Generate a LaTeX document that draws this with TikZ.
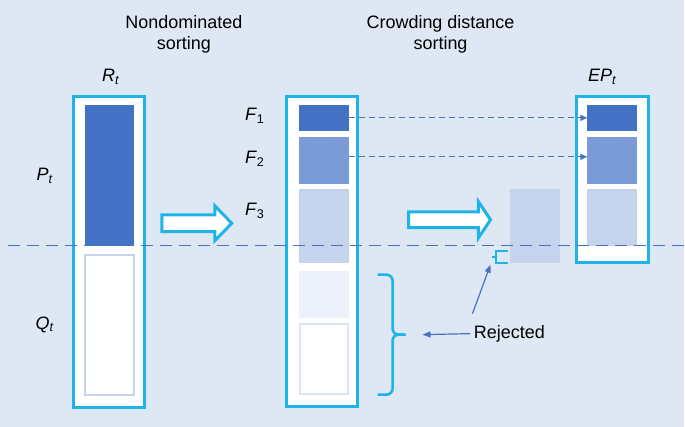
\documentclass[tikz,border=0pt]{standalone}
\usepackage{fontspec}
\setmainfont{Liberation Sans}
\usetikzlibrary{shapes.arrows,arrows.meta}
\definecolor{bg}{HTML}{DDE8F4}
\definecolor{cy}{HTML}{1EB4E8}
\definecolor{dk}{HTML}{4472C4}
\definecolor{md}{HTML}{7B9BD6}
\definecolor{lt}{HTML}{C5D3EC}
\definecolor{vl}{HTML}{EBF0F9}
\definecolor{dl}{HTML}{4A72C0}
\newcommand{\vs}[2]{\textit{#1}\textsubscript{#2}}
\begin{document}
\begin{tikzpicture}[x=1pt,y=-1pt,
  box/.style={draw=cy,line width=3pt,fill=white},
  lab/.style={font=\fontsize{18}{21}\selectfont,align=center},
  hol/.style={draw=cy,line width=3pt,fill=white},
  dsh/.style={dl,dashed,dash pattern=on 6pt off 4pt,line width=1.2pt,-{Triangle[length=7pt,width=6pt]}}]
\fill[bg] (0,0) rectangle (685,427);
% left column
\draw[box] (74,97) rectangle (145,408);
\fill[dk] (85,105) rectangle (134,246);
\draw[lt,fill=white,line width=2pt] (85,255) rectangle (134,395);
% middle
\draw[box] (287,97) rectangle (358,407);
\fill[dk] (299,105) rectangle (349,131);
\fill[md] (299,137) rectangle (349,184);
\fill[lt] (299,189) rectangle (349,263);
\fill[vl] (299,271) rectangle (349,318);
\draw[vl!60!lt,fill=white,line width=2pt] (300,324) rectangle (348,394);
% right
\draw[box] (577,97) rectangle (649,263);
\fill[dk] (588,105) rectangle (638,131);
\fill[md] (588,137) rectangle (638,184);
\fill[lt] (588,189) rectangle (638,246);
% floating
\fill[lt] (511,189) rectangle (561,263);
% dashed line
\draw[dl,dashed,dash pattern=on 12pt off 7pt,line width=1.5pt] (8,246) -- (685,246);
% hollow arrows
\draw[hol] (162,215) -- (215,215) -- (215,206) -- (232,223.5) -- (215,241) -- (215,232) -- (162,232) -- cycle;
\draw[hol] (409,212) -- (479,212) -- (479,202) -- (491,220) -- (479,238) -- (479,228) -- (409,228) -- cycle;
% dashed arrows
\coordinate (a1) at (349,118); \coordinate (b1) at (588,118);
\coordinate (a2) at (349,157); \coordinate (b2) at (588,157);
\draw[dsh] (a1) -- (b1);
\draw[dsh] (a2) -- (b2);
% small bracket
\draw[cy,line width=2pt] (509,251) -- (497,251) -- (497,263) -- (509,263);
\draw[cy,line width=2pt] (497,257) -- (493,257);
% brace
\draw[cy,line width=2.6pt,rounded corners=6pt] (378,275) -- (393,275) -- (393,335) -- (406,335);
\draw[cy,line width=2.6pt,rounded corners=6pt] (406,335) -- (393,335) -- (393,395) -- (378,395);
% labels
\node[lab] (rej) at (510,334) {Rejected};
\coordinate (bt) at (423,335);
\coordinate (sb) at (491,265);
\draw[dl,line width=1.2pt,-{Triangle[length=8pt,width=6pt]}] (rej.west) -- (bt);
\draw[dl,line width=1.2pt,-{Triangle[length=8pt,width=6pt]}] (473,314) -- (sb);
\node[lab] (t1) at (184,34) {Nondominated\\sorting};
\node[lab] (t2) at (441,34) {Crowding distance\\sorting};
\node[lab] (rt) at (111,77) {\vs{R}{\textit{t}}};
\node[lab] (ep) at (603,77) {\vs{EP}{\textit{t}}};
\node[lab] (pt) at (45,176) {\vs{P}{\textit{t}}};
\node[lab] (qt) at (45,325) {\vs{Q}{\textit{t}}};
\node[lab] (f1) at (255,116) {\vs{F}{1}};
\node[lab] (f2) at (255,159) {\vs{F}{2}};
\node[lab] (f3) at (255,211) {\vs{F}{3}};
\end{tikzpicture}
\end{document}
